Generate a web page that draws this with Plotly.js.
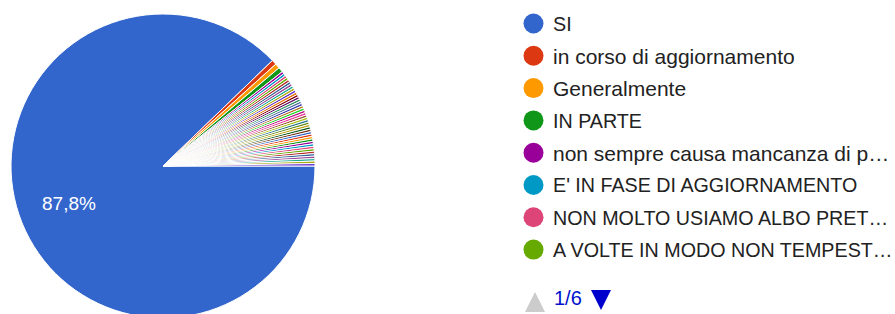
<!DOCTYPE html>
<html>
<head>
<meta charset="utf-8">
<script src="https://cdn.plot.ly/plotly-3.0.1.min.js"></script>
<style>
html,body{margin:0;padding:0;overflow:hidden;background:#fff;}
#chart{width:895px;height:340px;}
</style>
</head>
<body>
<div id="chart"></div>
<script>
// ---- data ----
const shownLabels = [
  "SI",
  "in corso di aggiornamento",
  "Generalmente",
  "IN PARTE",
  "non sempre causa mancanza di p…",
  "E' IN FASE DI AGGIORNAMENTO",
  "NON MOLTO USIAMO ALBO PRET…",
  "A VOLTE IN MODO NON TEMPEST…"
];
const values = [338, 2, 2, 2, 1, 1, 1, 1, 1, 1, 1, 1, 1, 1, 1, 1, 1, 1, 1, 1, 1, 1, 1,
  1, 1, 1, 1, 1, 1, 1, 1, 1, 1, 1, 1, 1, 1, 1, 1, 1, 1, 1, 1, 1, 1];
const pageLabel = "1/6";
const pctLabel = "87,8%";

// ---- style ----
const palette = ["#3366cc","#dc3912","#ff9900","#109618","#990099","#0099c6","#dd4477",
  "#66aa00","#b82e2e","#316395","#994499","#22aa99","#aaaa11","#6633cc","#e67300",
  "#8b0707","#651067","#329262","#5574a6","#3b3eac","#b77322","#16d620","#b91383",
  "#f4359e","#9c5935","#a9c413","#2a778d","#668d1c","#bea413","#0c5922","#743411"];

const labels = values.map((v, i) => i < shownLabels.length ? shownLabels[i] : ("Altra risposta " + (i + 1)));
const colors = values.map((v, i) => palette[i % palette.length]);

const W = 895, H = 340;
const px = x => x / W;
const py = y => 1 - y / H;
const cx = 163, cy = 166, R = 152;
const FONT = "Arial, Liberation Sans, sans-serif";

const pie = {
  type: "pie",
  labels: labels,
  values: values,
  sort: false,
  direction: "clockwise",
  rotation: 90,
  textinfo: "none",
  hoverinfo: "label+percent",
  showlegend: false,
  marker: {colors: colors, line: {color: "#ffffff", width: 1}},
  domain: {x: [px(cx - R), px(cx + R)], y: [py(cy + R), py(cy - R)]}
};

// percentage label at the mid-angle of the first slice
const total = values.reduce((a, b) => a + b, 0);
const midAng = 0.5 * values[0] / total * 2 * Math.PI;
const lr = R * 0.665;
const annotations = [{
  text: pctLabel, showarrow: false, xref: "paper", yref: "paper",
  x: px(cx + lr * Math.cos(midAng)), y: py(cy + lr * Math.sin(midAng)),
  xanchor: "center", yanchor: "middle",
  font: {family: FONT, size: 19, color: "#ffffff"}
}];
const shapes = [];
const legTop = 23.5, legStep = 32.3;
shownLabels.forEach((lab, i) => {
  const yc = legTop + i * legStep;
  const isCaps = lab === lab.toUpperCase();
  shapes.push({type: "circle", xref: "paper", yref: "paper",
    x0: px(523.5), x1: px(543.5), y0: py(yc + 10), y1: py(yc - 10),
    fillcolor: colors[i], line: {width: 0}});
  annotations.push({text: lab, showarrow: false, xref: "paper", yref: "paper",
    x: px(551), y: py(yc + 0.5), xanchor: "left", yanchor: "middle",
    font: {family: FONT, size: isCaps ? 19.7 : 21, color: "#222222"}});
});
// pager
shapes.push({type: "path", xref: "paper", yref: "paper",
  path: "M " + px(525) + " " + py(312) + " L " + px(545) + " " + py(312) + " L " + px(535) + " " + py(292) + " Z",
  fillcolor: "#cccccc", line: {width: 0}});
shapes.push({type: "path", xref: "paper", yref: "paper",
  path: "M " + px(591) + " " + py(290) + " L " + px(611) + " " + py(290) + " L " + px(601) + " " + py(310) + " Z",
  fillcolor: "#0000cc", line: {width: 0}});
annotations.push({text: pageLabel, showarrow: false, xref: "paper", yref: "paper",
  x: px(552), y: py(298), xanchor: "left", yanchor: "middle",
  font: {family: FONT, size: 20, color: "#0011cc"}});

const layout = {
  width: W, height: H,
  margin: {l: 0, r: 0, t: 0, b: 0, pad: 0},
  paper_bgcolor: "#ffffff",
  plot_bgcolor: "#ffffff",
  showlegend: false,
  annotations: annotations,
  shapes: shapes
};

Plotly.newPlot("chart", [pie], layout, {displayModeBar: false, staticPlot: true});
</script>
</body>
</html>
